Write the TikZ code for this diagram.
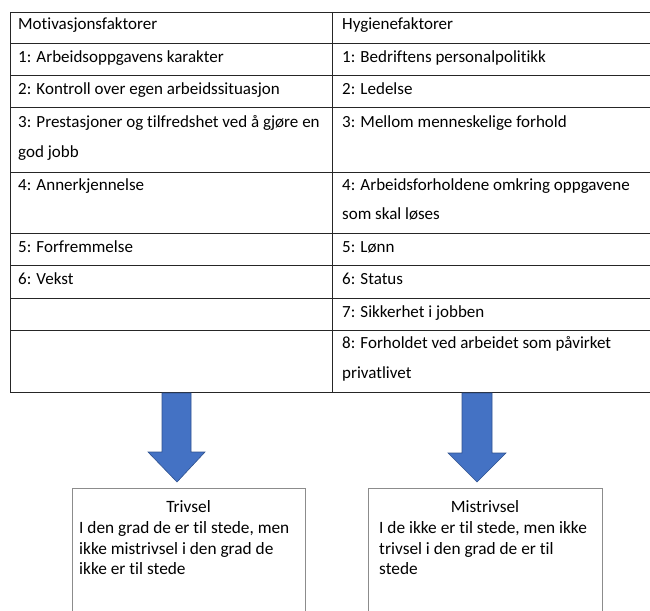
\documentclass[tikz,border=0pt]{standalone}
\usepackage{fontspec}
\setmainfont{Carlito}[Ligatures={NoCommon}]
\begin{document}
\definecolor{arrowfill}{HTML}{4472C4}
\definecolor{arrowline}{HTML}{2F528F}
\definecolor{boxline}{HTML}{8C8C8C}
\begin{tikzpicture}[x=1pt,y=-1pt,
  cell/.style={anchor=base west,inner sep=0pt,font=\fontsize{17}{20}\selectfont},
  boxtext/.style={anchor=base west,inner sep=0pt,font=\fontsize{17.3}{20}\selectfont},
  boxtitle/.style={anchor=base,inner sep=0pt,font=\fontsize{17.3}{20}\selectfont},
  rule/.style={line width=0.8pt,draw=black!85},
  bigarrow/.style={fill=arrowfill,draw=arrowline,line width=0.6pt,line join=miter},
  resultbox/.style={draw=boxline,line width=0.6pt}]
\useasboundingbox (0,0) rectangle (650,610);
\clip (0,0) rectangle (650,610);

% table frame and column rule
\draw[rule] (650,12) -- (10,12) -- (10,392) -- (650,392);
\draw[rule] (332,12) -- (332,392);
% row rules
\foreach \y in {43,75,107,172,233,265,298,330}
  \draw[rule] (10,\y) -- (650,\y);

% left column
\node[cell] (mh) at (18,30) {Motivasjonsfaktorer};
\node[cell] (m1) at (18,62.5) {1: Arbeidsoppgavens karakter};
\node[cell] (m2) at (18,94) {2: Kontroll over egen arbeidssituasjon};
\node[cell] (m3a) at (18,127) {3: Prestasjoner og tilfredshet ved å gjøre en};
\node[cell] (m3b) at (18,157) {god jobb};
\node[cell] (m4) at (18,190) {4: Annerkjennelse};
\node[cell] (m5) at (18,252) {5: Forfremmelse};
\node[cell] (m6) at (18,284) {6: Vekst};

% right column
\node[cell] (hh) at (342,30) {Hygienefaktorer};
\node[cell] (h1) at (342,62.5) {1: Bedriftens personalpolitikk};
\node[cell] (h2) at (342,94) {2: Ledelse};
\node[cell] (h3) at (342,127) {3: Mellom menneskelige forhold};
\node[cell] (h4a) at (342,190) {4: Arbeidsforholdene omkring oppgavene};
\node[cell] (h4b) at (342,219) {som skal løses};
\node[cell] (h5) at (342,252) {5: Lønn};
\node[cell] (h6) at (342,284) {6: Status};
\node[cell] (h7) at (342,317) {7: Sikkerhet i jobben};
\node[cell] (h8a) at (342,348) {8: Forholdet ved arbeidet som påvirket};
\node[cell] (h8b) at (342,378) {privatlivet};

% block arrows
\draw[bigarrow] (162,393) -- (191,393) -- (191,452) -- (205,452) -- (177,482)
  -- (148,452) -- (162,452) -- cycle;
\draw[bigarrow] (462,393) -- (492,393) -- (492,453) -- (506,453) -- (477,482)
  -- (448,453) -- (462,453) -- cycle;

% result boxes (running past the lower edge)
\draw[resultbox] (72,640) -- (72,488) -- (305,488) -- (305,640);
\draw[resultbox] (368,640) -- (368,488) -- (602,488) -- (602,640);

\node[boxtitle] (tt) at (188.5,512) {Trivsel};
\node[boxtext] (t1) at (79,533) {I den grad de er til stede, men};
\node[boxtext] (t2) at (79,554) {ikke mistrivsel i den grad de};
\node[boxtext] (t3) at (79,574) {ikke er til stede};

\node[boxtitle] (mt) at (485,512) {Mistrivsel};
\node[boxtext] (r1) at (379,533) {I de ikke er til stede, men ikke};
\node[boxtext] (r2) at (379,554) {trivsel i den grad de er til};
\node[boxtext] (r3) at (379,574) {stede};
\end{tikzpicture}
\end{document}
